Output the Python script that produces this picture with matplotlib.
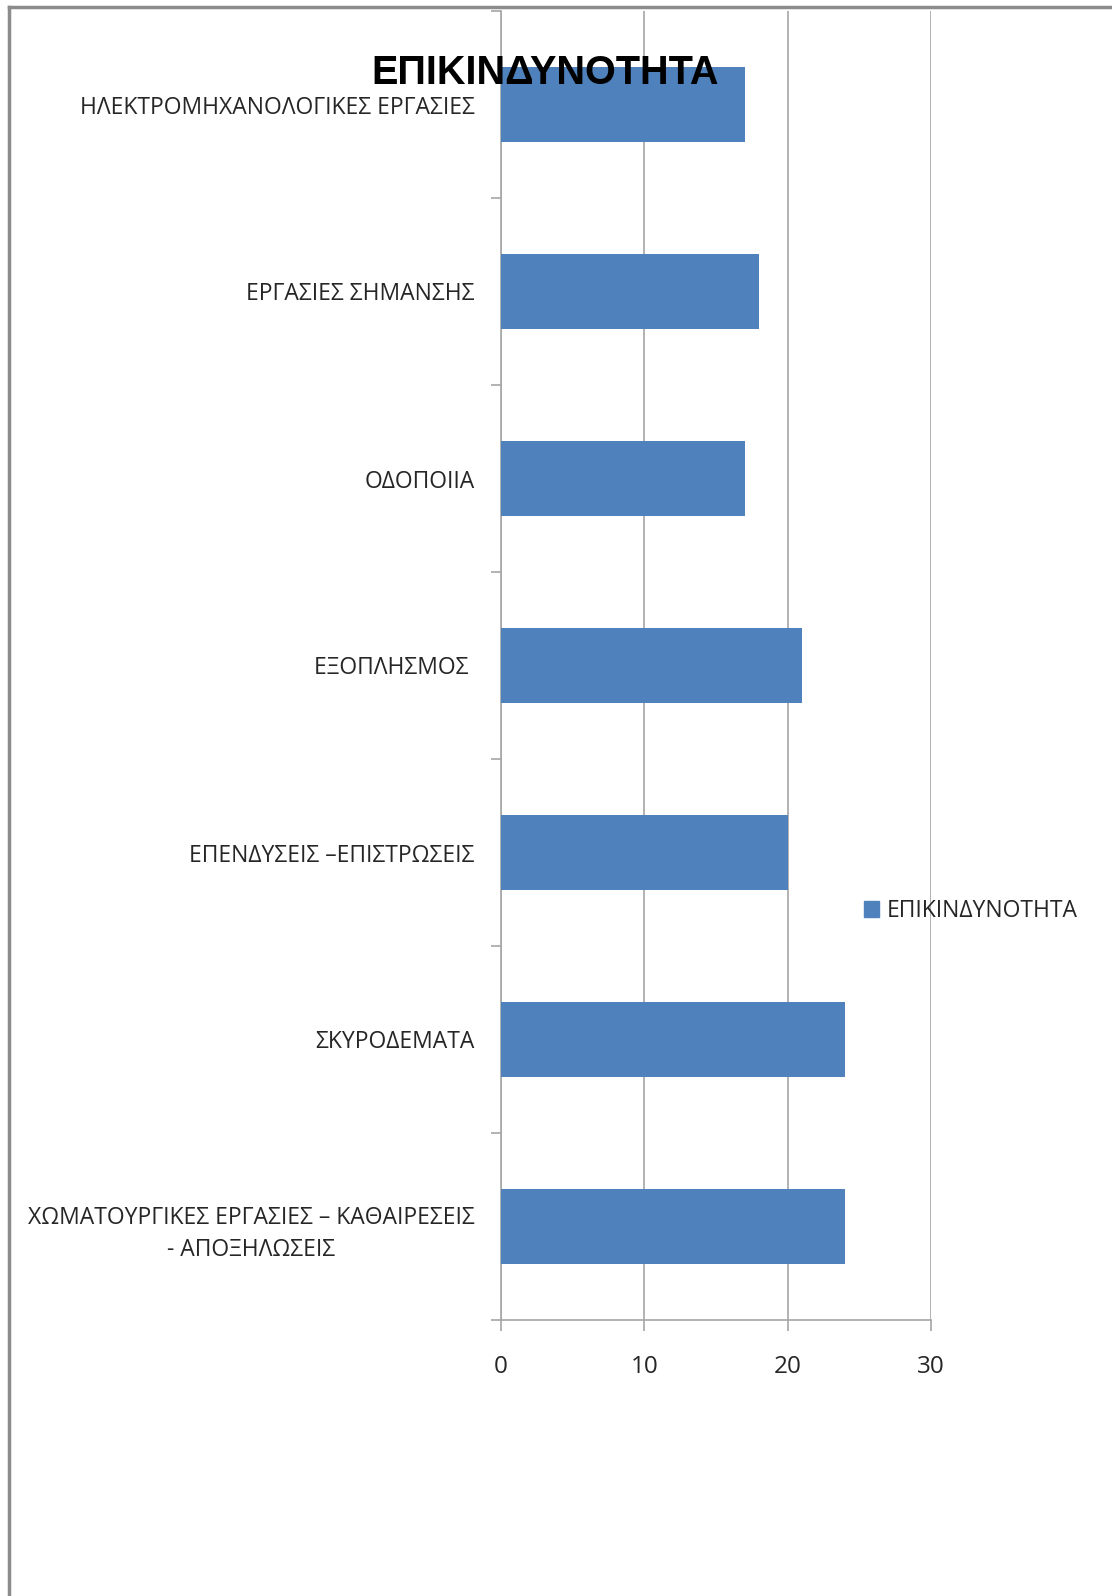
import matplotlib
matplotlib.use("Agg")
import matplotlib.pyplot as plt
from matplotlib.lines import Line2D

categories = [
    "ΧΩΜΑΤΟΥΡΓΙΚΕΣ ΕΡΓΑΣΙΕΣ – ΚΑΘΑΙΡΕΣΕΙΣ\n- ΑΠΟΞΗΛΩΣΕΙΣ",
    "ΣΚΥΡΟΔΕΜΑΤΑ",
    "ΕΠΕΝΔΥΣΕΙΣ –ΕΠΙΣΤΡΩΣΕΙΣ",
    "ΕΞΟΠΛΗΣΜΟΣ ",
    "ΟΔΟΠΟΙΙΑ",
    "ΕΡΓΑΣΙΕΣ ΣΗΜΑΝΣΗΣ",
    "ΗΛΕΚΤΡΟΜΗΧΑΝΟΛΟΓΙΚΕΣ ΕΡΓΑΣΙΕΣ",
]
values = [24, 24, 20, 21, 17, 18, 17]
series_name = "ΕΠΙΚΙΝΔΥΝΟΤΗΤΑ"
title = "ΕΠΙΚΙΝΔΥΝΟΤΗΤΑ"
xticks = [0, 10, 20, 30]

W, H = 1112, 1596
fig = plt.figure(figsize=(W / 100, H / 100), dpi=100)
ax = fig.add_axes([501 / W, 1 - 1320 / H, (931 - 501) / W, (1320 - 11) / H])

bar_color = "#4F81BD"
grid_color = "#A6A6A6"
text_color = "#262626"

ypos = list(range(len(categories)))
ax.barh(ypos, values, height=0.4, color=bar_color, label=series_name, zorder=3)
ax.set_ylim(-0.5, len(categories) - 0.5)
ax.set_xlim(0, 30)
ax.set_xticks(xticks)
ax.set_xticklabels([str(t) for t in xticks])
ax.set_yticks([i - 0.5 for i in range(len(categories) + 1)], minor=False)
ax.set_yticklabels([])
ax.set_yticks(ypos, minor=True)
ax.set_yticklabels(categories, minor=True, multialignment="center", linespacing=1.45)
ax.tick_params(axis="y", which="minor", length=0, pad=19, labelsize=16.5,
               labelcolor=text_color)
ax.tick_params(axis="y", which="major", length=7, color=grid_color, width=1.2)
ax.tick_params(axis="x", length=8, color=grid_color, width=1.2, pad=17,
               labelsize=17.5, labelcolor=text_color)
for lbl in ax.get_yticklabels(minor=True) + ax.get_xticklabels():
    lbl.set_fontfamily(["Open Sans", "DejaVu Sans"])

ax.grid(axis="x", color=grid_color, linewidth=1.2, zorder=0)
for s in ["top", "right"]:
    ax.spines[s].set_visible(False)
for s in ["left", "bottom"]:
    ax.spines[s].set_color(grid_color)
    ax.spines[s].set_linewidth(1.2)

fig.text(545 / W, 1 - 73 / H, title, ha="center", va="center",
         fontsize=28.5, fontweight="bold", family=["Liberation Sans", "DejaVu Sans"],
         color="black", zorder=10)

leg = fig.legend(handles=[plt.Rectangle((0, 0), 1, 1, color=bar_color)],
                 labels=[series_name], loc="center left",
                 bbox_to_anchor=(843 / W, 1 - 911 / H), frameon=False,
                 handlelength=0.65, handleheight=0.65, handletextpad=0.35,
                 prop={"family": ["Open Sans", "DejaVu Sans"], "size": 16.5})
for t in leg.get_texts():
    t.set_color(text_color)

# outer chart frame (partially visible)
fig.add_artist(Line2D([9 / W, 9 / W], [0, 1 - 7 / H], transform=fig.transFigure,
                      color="#8C8C8C", linewidth=2.5))
fig.add_artist(Line2D([9 / W, 1], [1 - 7 / H, 1 - 7 / H], transform=fig.transFigure,
                      color="#8C8C8C", linewidth=2.5))

fig.savefig("out.png", dpi=100)
